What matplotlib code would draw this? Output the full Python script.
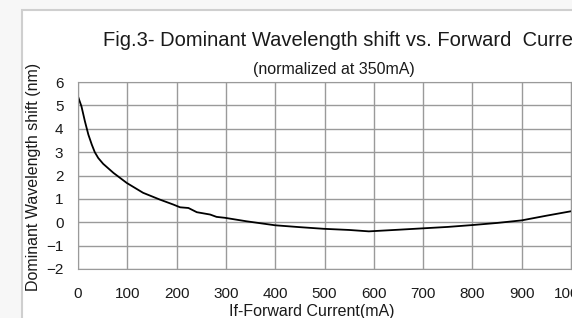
import matplotlib.pyplot as plt
from matplotlib.patches import Rectangle

# Данні кривої
current_ma = [1, 7, 14, 21, 28, 34, 41, 51, 72, 99, 132, 166, 193, 207, 224, 241, 268, 281, 298,
              342, 400, 450, 498, 550, 590, 650, 700, 750, 800, 850, 900, 950, 1000]
shift_nm = [5.32, 4.96, 4.32, 3.75, 3.32, 3.0, 2.75, 2.5, 2.11, 1.68, 1.26, 0.97, 0.76, 0.64, 0.61, 0.43,
            0.33, 0.23, 0.19, 0.04, -0.13, -0.21, -0.28, -0.33, -0.39, -0.32, -0.26, -0.2, -0.12, -0.03,
            0.08, 0.28, 0.47]

x_ticks = [0, 100, 200, 300, 400, 500, 600, 700, 800, 900, 1000]
y_ticks = [-2, -1, 0, 1, 2, 3, 4, 5, 6]

plt.rcParams['font.family'] = ['Liberation Sans', 'DejaVu Sans']

fig = plt.figure(figsize=(5.72, 3.18), dpi=100)
fig.patch.set_facecolor('#f7f7f7')

# Біла панель з сірою рамкою
panel = Rectangle((22 / 572, -0.1), 1.2, 1 - 10 / 318 + 0.1,
                  transform=fig.transFigure, facecolor='white',
                  edgecolor='#cfcfcf', linewidth=1.5, zorder=-5)
fig.patches.append(panel)

ax = fig.add_axes([78 / 572, 49 / 318, 493 / 572, 187 / 318])
ax.set_facecolor('white')
ax.plot(current_ma, shift_nm, color='black', linewidth=1.3)

ax.set_xlim(0, 1000)
ax.set_ylim(-2, 6)
ax.set_xticks(x_ticks)
ax.set_yticks(y_ticks)
ax.grid(color='#9a9a9a', linewidth=1)
for s in ax.spines.values():
    s.set_color('#9a9a9a')
ax.tick_params(length=0, labelsize=11, colors='#1a1a1a')
ax.tick_params(axis='x', pad=13)
ax.tick_params(axis='y', pad=10.5)

ax.set_xlabel('If-Forward Current(mA)', fontsize=11.5, color='#1a1a1a')
ax.xaxis.set_label_coords(234 / 493, -35 / 187)
ax.set_ylabel('Dominant Wavelength shift (nm)', fontsize=11.5, color='#1a1a1a')
ax.yaxis.set_label_coords(-37 / 493, 0.49)

fig.text(103 / 572, 1 - 40 / 318, 'Fig.3- Dominant Wavelength shift vs. Forward  Current',
         fontsize=14.5, color='#1a1a1a', va='center', ha='left')
fig.text(334 / 572, 1 - 70 / 318, '(normalized at 350mA)',
         fontsize=11.5, color='#1a1a1a', va='center', ha='center')

fig.savefig('out.png', dpi=100, facecolor=fig.get_facecolor())
